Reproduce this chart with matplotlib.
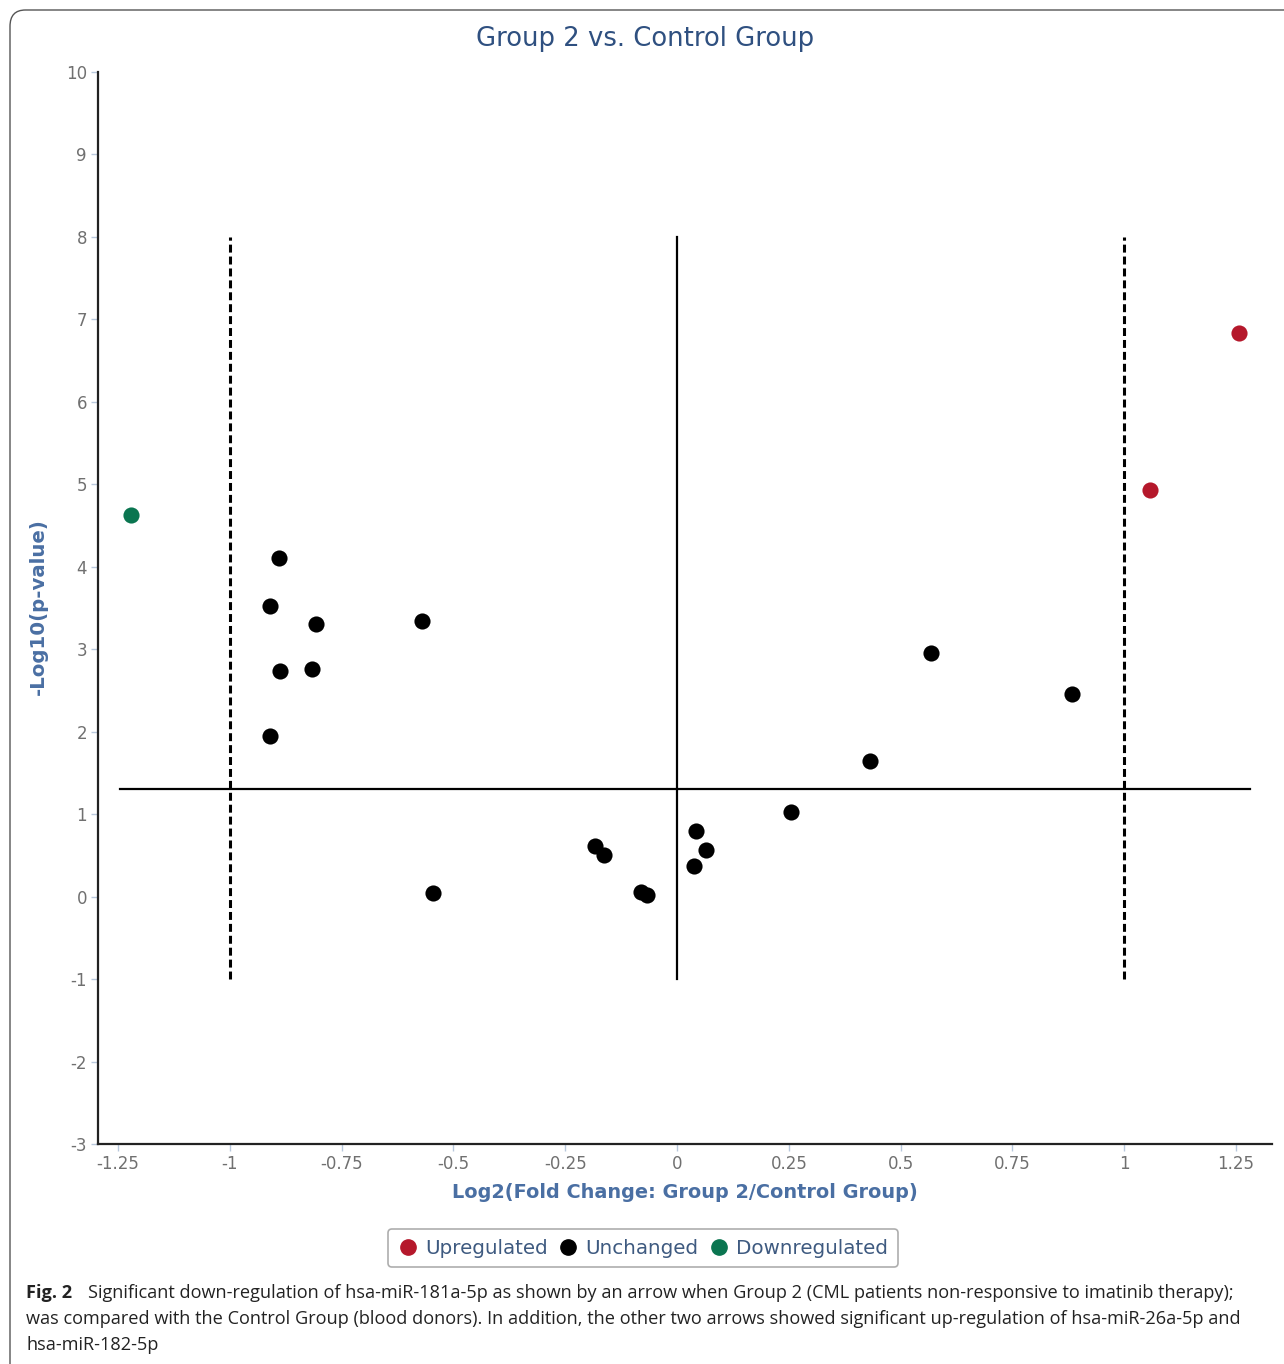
import matplotlib.pyplot as plt
import matplotlib.patches as patches
from matplotlib.lines import Line2D

plt.rcParams['axes.unicode_minus'] = False

# data
up_x = [1.257, 1.058]
up_y = [6.83, 4.93]
down_x = [-1.221]
down_y = [4.63]
unch_x = [-0.890, -0.910, -0.807, -0.570, -0.888, -0.816, -0.910, -0.546,
          -0.183, -0.163, -0.0805, -0.067, 0.0425, 0.065, 0.038, 0.255,
          0.432, 0.568, 0.883]
unch_y = [4.11, 3.52, 3.30, 3.34, 2.74, 2.76, 1.95, 0.04,
          0.61, 0.51, 0.06, 0.02, 0.80, 0.57, 0.37, 1.03,
          1.64, 2.96, 2.46]
x_ticks = [-1.25, -1, -0.75, -0.5, -0.25, 0, 0.25, 0.5, 0.75, 1, 1.25]
x_tick_labels = ['-1.25', '-1', '-0.75', '-0.5', '-0.25', '0', '0.25', '0.5', '0.75', '1', '1.25']
y_ticks = list(range(-3, 11))
fc_cut = [-1, 1]
p_cut = 1.301

RED = '#b5182b'
GREEN = '#0a7550'
TITLE_C = '#2f5080'
LABEL_C = '#4a6fa3'
TICK_C = '#707070'

fig = plt.figure(figsize=(12.84, 13.64), dpi=100)

# outer rounded frame (extends past right/bottom edge)
frame = patches.FancyBboxPatch((10 / 1284, -0.05), 1.2, 1 - 10 / 1364 + 0.05,
                               boxstyle='round,pad=0,rounding_size=0.012',
                               transform=fig.transFigure, fill=False,
                               edgecolor='#555555', linewidth=1.0)
fig.patches.append(frame)

ax = fig.add_axes([98 / 1284, 1 - 1144 / 1364, (1272 - 98) / 1284, (1144 - 72) / 1364])
ax.set_xlim(-1.295, 1.3305)
ax.set_ylim(-3, 10)

for s in ['top', 'right']:
    ax.spines[s].set_visible(False)
for s in ['left', 'bottom']:
    ax.spines[s].set_linewidth(1.6)
    ax.spines[s].set_color('#222222')

ax.set_xticks(x_ticks)
ax.set_xticklabels(x_tick_labels)
ax.set_yticks(y_ticks)
ax.tick_params(axis='both', colors='#b8c8dc', length=5, width=1, labelsize=12,
               labelcolor=TICK_C)
ax.tick_params(axis='x', pad=3)
ax.tick_params(axis='y', pad=3)

# threshold lines
ax.plot([fc_cut[0], fc_cut[0]], [-1, 8], color='black', lw=2.2, linestyle=(0, (2.6, 1.3)))
ax.plot([fc_cut[1], fc_cut[1]], [-1, 8], color='black', lw=2.2, linestyle=(0, (2.6, 1.3)))
ax.plot([0, 0], [-1, 8], color='black', lw=1.6)
ax.plot([-1.245, 1.281], [p_cut, p_cut], color='black', lw=1.6)

ax.scatter(unch_x, unch_y, s=135, color='black', zorder=3, linewidths=0)
ax.scatter(up_x, up_y, s=135, color=RED, zorder=3, linewidths=0)
ax.scatter(down_x, down_y, s=135, color=GREEN, zorder=3, linewidths=0)

fig.text(645 / 1284, 1 - 39 / 1364, 'Group 2 vs. Control Group', ha='center', va='center',
         fontsize=18.6, color=TITLE_C)
fig.text(685 / 1284, 1 - 1192 / 1364, 'Log2(Fold Change: Group 2/Control Group)',
         ha='center', va='center', fontsize=13.9, fontweight='bold', color=LABEL_C)
fig.text(38 / 1284, 1 - 607 / 1364, '-Log10(p-value)', ha='center', va='center',
         rotation=90, fontsize=14.2, fontweight='bold', color=LABEL_C)

handles = [Line2D([], [], marker='o', ls='none', color=RED, markersize=11),
           Line2D([], [], marker='o', ls='none', color='black', markersize=11),
           Line2D([], [], marker='o', ls='none', color=GREEN, markersize=11)]
leg = fig.legend(handles, ['Upregulated', 'Unchanged', 'Downregulated'],
                 loc='center', bbox_to_anchor=(643 / 1284, 1 - 1248 / 1364), ncol=3,
                 fontsize=14.3, frameon=True, handletextpad=0.35, columnspacing=0.55,
                 handlelength=1.0, borderpad=0.5, fancybox=True)
leg.get_frame().set_edgecolor('#999999')
leg.get_frame().set_linewidth(1.2)
for t in leg.get_texts():
    t.set_color('#3e5a80')

cap_font = ['Open Sans']
cap_size = 13.1
fig.text(26 / 1284, 1 - 1293 / 1364, 'Fig. 2', ha='left', va='center', fontsize=cap_size,
         fontweight='bold', family=cap_font, color='#222222')
fig.text(88 / 1284, 1 - 1293 / 1364,
         'Significant down-regulation of hsa-miR-181a-5p as shown by an arrow when Group 2 '
         '(CML patients non-responsive to imatinib therapy);',
         ha='left', va='center', fontsize=cap_size, family=cap_font, color='#222222')
fig.text(26 / 1284, 1 - 1319 / 1364,
         'was compared with the Control Group (blood donors). In addition, the other two arrows '
         'showed significant up-regulation of hsa-miR-26a-5p and',
         ha='left', va='center', fontsize=cap_size, family=cap_font, color='#222222')
fig.text(26 / 1284, 1 - 1345 / 1364, 'hsa-miR-182-5p', ha='left', va='center',
         fontsize=cap_size, family=cap_font, color='#222222')

fig.savefig('out.png', dpi=100)
